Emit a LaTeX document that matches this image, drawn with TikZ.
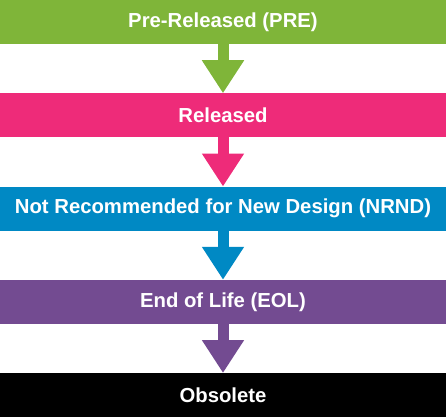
\documentclass[tikz,border=0pt]{standalone}
\usepackage{fontspec}
\setmainfont{Liberation Sans}
\usetikzlibrary{arrows.meta,positioning}
\definecolor{pregreen}{HTML}{7FB539}
\definecolor{relpink}{HTML}{EE2B79}
\definecolor{nrndblue}{HTML}{0089C4}
\definecolor{eolpurple}{HTML}{734B91}
\begin{document}
\begin{tikzpicture}
[
bar/.style={rectangle, draw=none, minimum width=446pt, minimum height=44pt, inner sep=0pt, outer sep=0pt, text centered, text=white, font=\bfseries\fontsize{20.3}{22}\selectfont},
flow/.style={line width=11pt, -{Triangle[length=33pt,width=40pt]}},
node distance=49.25pt
]
\useasboundingbox (-223pt,22pt) rectangle (223pt,-395pt);
\node (pre) [bar, fill=pregreen] at (0,0) {Pre-Released (PRE)};
\node (rel) [bar, fill=relpink, below=of pre] {Released};
\node (nrnd) [bar, fill=nrndblue, below=of rel] {Not Recommended for New Design (NRND)};
\node (eol) [bar, fill=eolpurple, below=of nrnd] {End of Life (EOL)};
\node (obs) [bar, fill=black, below=of eol] {Obsolete};
% arrows between states
\draw [flow, pregreen] (pre) -- (rel);
\draw [flow, relpink] (rel) -- (nrnd);
\draw [flow, nrndblue] (nrnd) -- (eol);
\draw [flow, eolpurple] (eol) -- (obs);
\end{tikzpicture}
\end{document}
